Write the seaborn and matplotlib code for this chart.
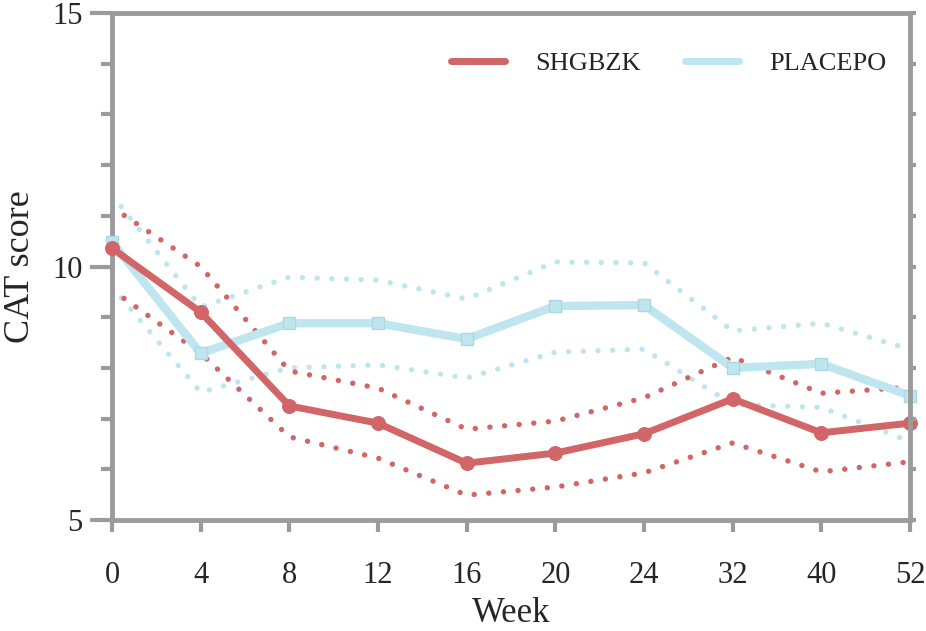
import numpy as np
import pandas as pd
import matplotlib
matplotlib.use('Agg')
import matplotlib.pyplot as plt
from matplotlib.lines import Line2D
from matplotlib.ticker import MultipleLocator, FixedLocator
import seaborn as sns

# Values
weeks = [0, 4, 8, 12, 16, 20, 24, 32, 40, 52]

shg_mean = [10.36, 9.10, 7.25, 6.91, 6.12, 6.32, 6.70, 7.39, 6.72, 6.91]
shg_upper = [11.17, 10.00, 7.94, 7.60, 6.79, 6.95, 7.41, 8.21, 7.50, 7.62]
shg_lower = [9.54, 8.29, 6.64, 6.22, 5.49, 5.65, 5.93, 6.52, 5.95, 6.15]

pla_mean = [10.48, 8.29, 8.88, 8.88, 8.57, 9.22, 9.24, 8.00, 8.08, 7.45]
pla_upper = [11.41, 9.20, 9.79, 9.73, 9.36, 10.09, 10.07, 8.73, 8.88, 8.37]
pla_lower = [9.60, 7.52, 8.00, 8.06, 7.80, 8.31, 8.37, 7.28, 7.22, 6.55]

RED = '#d16567'
BLUE = '#bfe6ef'
GRAY = '#9b9b9b'

sns.set_style('white')
plt.rcParams['font.family'] = ['Liberation Serif', 'DejaVu Serif']

pos = np.arange(len(weeks))
df = pd.DataFrame({
    'pos': pos,
    'shg_mean': shg_mean, 'shg_upper': shg_upper, 'shg_lower': shg_lower,
    'pla_mean': pla_mean, 'pla_upper': pla_upper, 'pla_lower': pla_lower,
})

fig = plt.figure(figsize=(9.26, 6.31), dpi=100)
ax = fig.add_axes([112 / 926, 1 - 520 / 631, (910 - 112) / 926, (520 - 13) / 631])

dot_style = dict(linestyle=(0, (0.01, 2.7)), dash_capstyle='round', linewidth=3.9)

# dotted confidence bands
for col in ['pla_upper', 'pla_lower']:
    sns.lineplot(data=df, x='pos', y=col, color=BLUE, ax=ax, **dot_style)
for col in ['shg_upper', 'shg_lower']:
    sns.lineplot(data=df, x='pos', y=col, color=RED, ax=ax, **dot_style)

# mean lines
sns.lineplot(data=df, x='pos', y='pla_mean', color=BLUE, linewidth=6, marker='s',
             markersize=8, markerfacecolor=BLUE, markeredgecolor='#a8d9e4',
             markeredgewidth=1, ax=ax, clip_on=False, zorder=4)
sns.lineplot(data=df, x='pos', y='shg_mean', color=RED, linewidth=5, marker='o',
             markersize=10, markerfacecolor=RED, markeredgecolor=RED,
             ax=ax, clip_on=False, zorder=5)

ax.set_xlim(0, len(weeks) - 1)
ax.set_ylim(5, 15)

# x ticks: labels on every week, longer ticks on every other one
ax.xaxis.set_major_locator(FixedLocator(pos))
ax.set_xticklabels([str(w) for w in weeks])
ax.xaxis.set_minor_locator(FixedLocator(pos[::2]))
ax.tick_params(axis='x', which='major', direction='out', length=8.6, width=3,
               color=GRAY, labelsize=22, pad=21, bottom=True)
ax.tick_params(axis='x', which='minor', direction='out', length=16, width=3,
               color=GRAY, bottom=True)

ax.yaxis.set_major_locator(MultipleLocator(5))
ax.yaxis.set_minor_locator(MultipleLocator(1))
ax.tick_params(axis='y', which='major', direction='out', length=16, width=3,
               color=GRAY, labelsize=22, pad=5, left=True)
ax.tick_params(axis='y', which='minor', direction='out', length=8, width=3,
               color=GRAY, left=True)

for s in ax.spines.values():
    s.set_color(GRAY)
    s.set_linewidth(3.5)
ax.spines['right'].set_visible(False)

# small outward ticks on the right edge
ax2 = ax.twinx()
ax2.set_ylim(5, 15)
ax2.yaxis.set_major_locator(MultipleLocator(1))
ax2.tick_params(axis='y', which='major', direction='out', length=4.5, width=3,
                color=GRAY, labelright=False, right=True)
for name, s in ax2.spines.items():
    s.set_visible(name == 'right')
ax2.spines['right'].set_color(GRAY)
ax2.spines['right'].set_linewidth(3.5)

ax.set_xlabel('Week', fontsize=25, labelpad=5)
ax.set_ylabel('CAT score', fontsize=26, labelpad=11)

handles = [Line2D([0], [0], color=RED, linewidth=5),
           Line2D([0], [0], color=BLUE, linewidth=5)]
ax.legend(handles, ['SHGBZK', 'PLACEPO'], loc='upper right', ncol=2, frameon=False,
          fontsize=19, handlelength=2.05, handletextpad=1.15, columnspacing=1.65,
          bbox_to_anchor=(1.0, 0.97))

fig.savefig('out.png', dpi=100)
